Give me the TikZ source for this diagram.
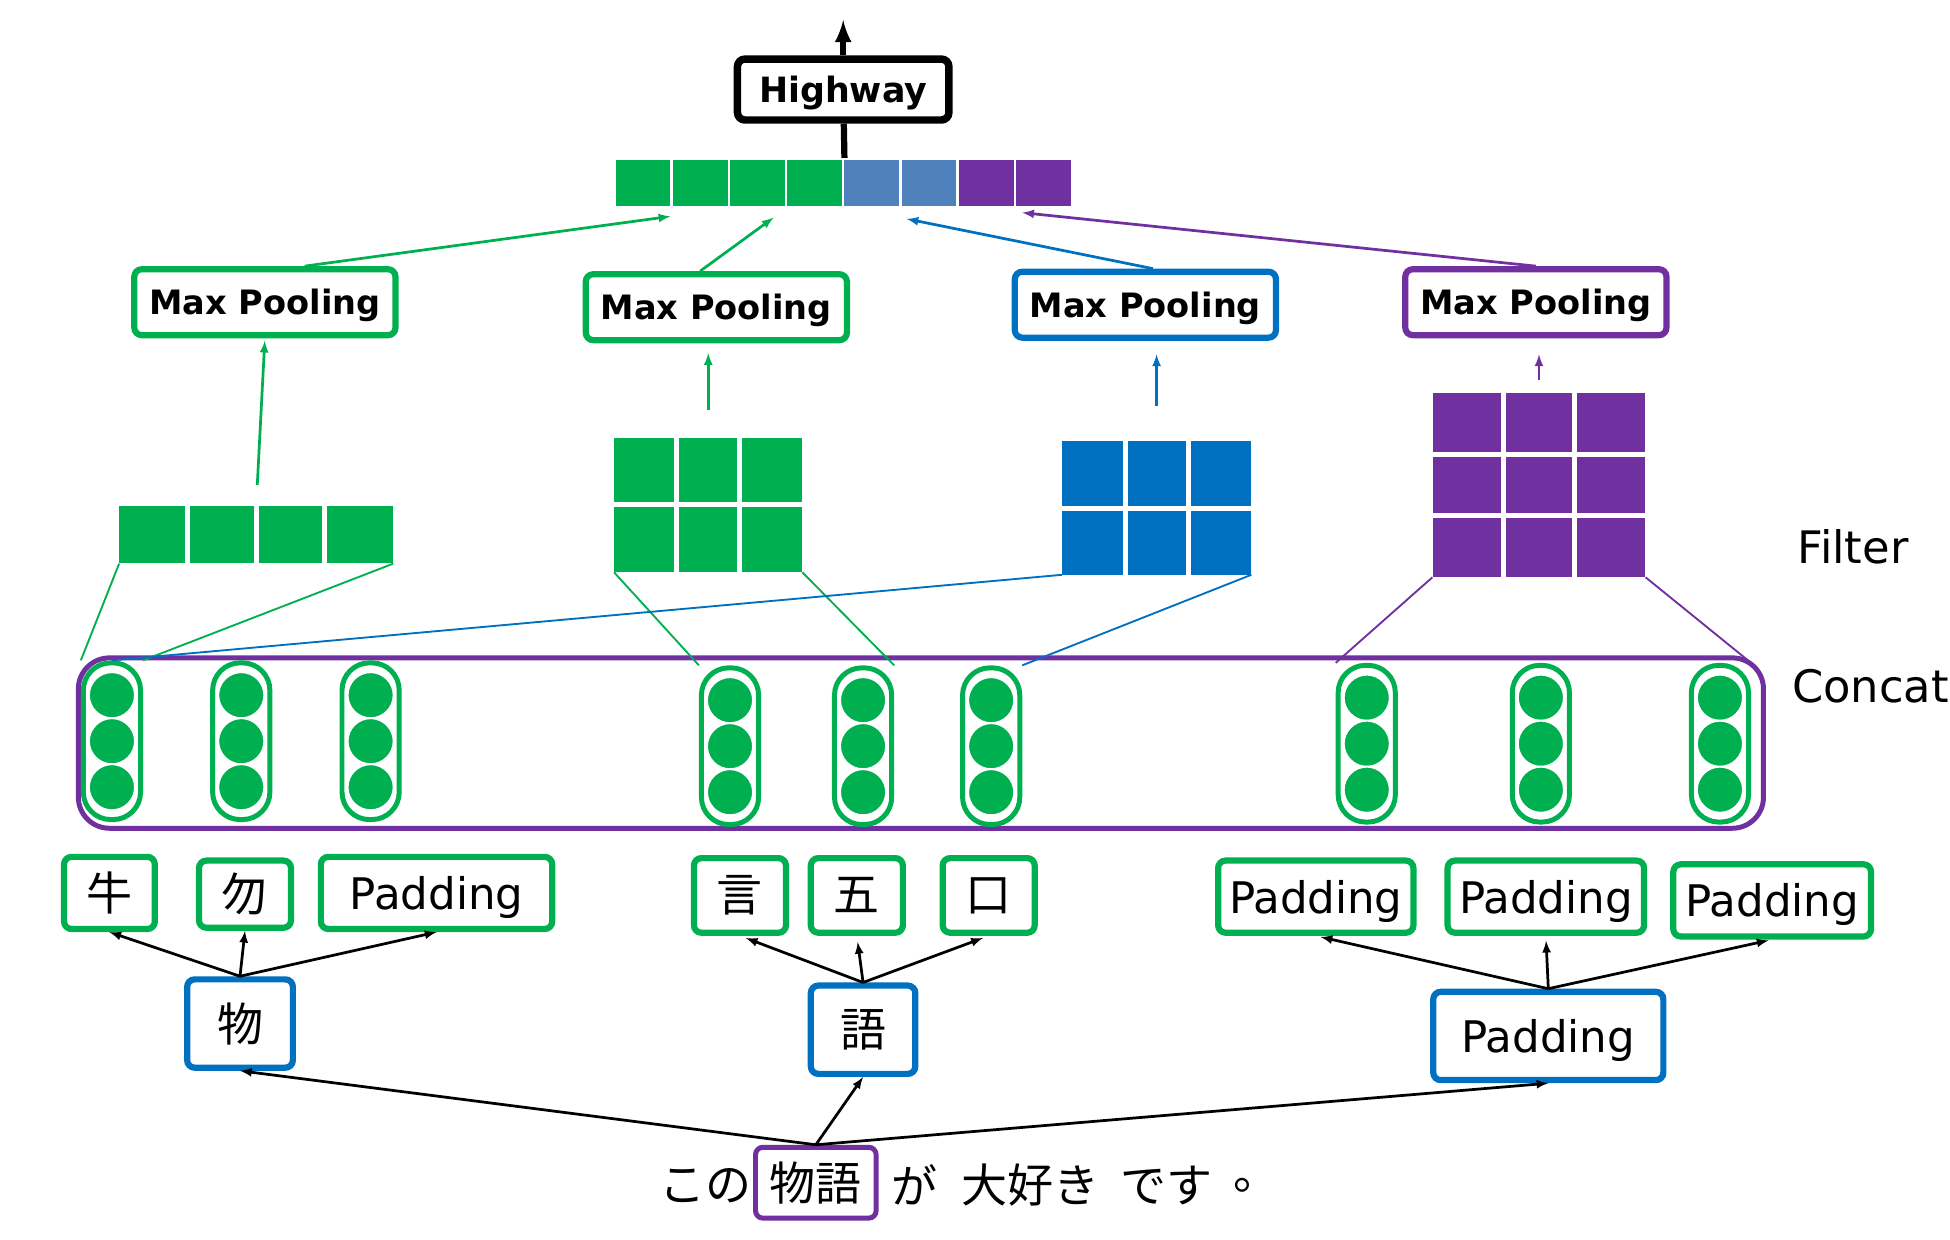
\documentclass[tikz,border=0pt]{standalone}
\usepackage{fontspec}
\setmainfont{DejaVu Sans}
\newfontfamily\jp{Noto Sans CJK JP}
\definecolor{cgreen}{RGB}{0,176,80}
\definecolor{cblue}{RGB}{0,112,192}
\definecolor{cpurple}{RGB}{112,48,160}
\definecolor{csteel}{RGB}{79,129,189}

\begin{document}
\begin{tikzpicture}[x=1pt,y=-1pt,>=latex,
    box/.style={draw,rounded corners=6,line width=5,fill=white,inner sep=0},
    mp/.style={box,minimum width=210,minimum height=53,text depth=0,font=\fontsize{27}{30}\selectfont\bfseries},
    gbox/.style={box,draw=cgreen,minimum height=58},
    bbox/.style={box,draw=cblue,minimum height=71},
    jtxt/.style={font=\jp\fontsize{37}{40}\selectfont},
    padtxt/.style={text depth=0,font=\fontsize{35}{40}\selectfont},
    cell/.style={draw=white,line width=2,inner sep=0,minimum width=46,minimum height=39},
    filt/.style={inner sep=0},
    wline/.style={white,line width=4},
    caps/.style={draw=cgreen,line width=4,rounded corners=22,minimum width=46,minimum height=126,inner sep=0},
    ball/.style={circle,fill=cgreen,draw=white,line width=1.5,minimum size=37,inner sep=0},
    lbl/.style={font=\fontsize{36}{40}\selectfont,inner sep=0}]
    \useasboundingbox (0,0) rectangle (1568,997);

    % output vector
    \foreach \i/\c in {1/cgreen,2/cgreen,3/cgreen,4/cgreen,5/csteel,6/csteel,7/cpurple,8/cpurple}
        \node[cell,fill=\c] (c\i) at (471+46*\i,147.5) {};
    \node[box,draw=black,line width=6,minimum width=170,minimum height=49,text depth=0,font=\fontsize{28}{30}\selectfont\bfseries] (hw) at (678,72) {Highway};
    \coordinate (out) at (678,16);
    \draw[->,line width=5] (hw) -- (out);
    \draw[line width=5] (hw) -- (c4.north east);

    % max pooling
    \node[mp,draw=cgreen] (mp1) at (213,243) {Max Pooling};
    \node[mp,draw=cgreen] (mp2) at (576,247) {Max Pooling};
    \node[mp,draw=cblue] (mp3) at (921,245) {Max Pooling};
    \node[mp,draw=cpurple] (mp4) at (1235,243) {Max Pooling};

    \path[->,cgreen,line width=2.2] ([xshift=32]mp1.north) edge ([xshift=-2,yshift=-6]c1.south east);
    \path[->,cgreen,line width=2.2] ([xshift=-13]mp2.north) edge ([xshift=-11,yshift=-7]c3.south east);
    \path[->,cblue,line width=2.2] ([xshift=6]mp3.north) edge ([xshift=6,yshift=-8]c6.south west);
    \path[->,cpurple,line width=2.2] (mp4.north) edge ([xshift=7,yshift=-3]c8.south west);

    % filters
    \node[filt,fill=cgreen,minimum width=220,minimum height=46] (f1) at (206,430) {};
    \node[filt,fill=cgreen,minimum width=151,minimum height=108] (f2) at (569.5,406) {};
    \node[filt,fill=cblue,minimum width=152,minimum height=107] (f3) at (930,408.5) {};
    \node[filt,fill=cpurple,minimum width=171,minimum height=148] (f4) at (1237.5,390) {};
    \foreach \x in {151,206,261} \draw[wline] (\x,407) -- (\x,453);
    \foreach \x in {544.3,594.7} \draw[wline] (\x,352) -- (\x,460);
    \draw[wline] (494,406) -- (645,406);
    \foreach \x in {904.7,955.3} \draw[wline] (\x,355) -- (\x,462);
    \draw[wline] (854,408.5) -- (1006,408.5);
    \foreach \x in {1209,1266} \draw[wline] (\x,316) -- (\x,464);
    \foreach \y in {365.3,414.7} \draw[wline] (1152,\y) -- (1323,\y);

    \path[->,cgreen,line width=2.2,shorten <=17,shorten >=2] (f1.north) edge (mp1.south);
    \path[->,cgreen,line width=2.2,shorten <=22,shorten >=8] (f2.north) edge (f2.north |- mp2.south);
    \path[->,cblue,line width=2.2,shorten <=28,shorten >=11] (f3.north) edge (f3.north |- mp3.south);
    \path[->,cpurple,line width=2.2,shorten <=10,shorten >=13] (f4.north) edge (f4.north |- mp4.south);

    \node[lbl] (flt) at (1490,440) {Filter};
    \node[lbl] (cct) at (1504,552) {Concat};

    % concat
    \node[draw=cpurple,line width=4,rounded corners=25,minimum width=1355,minimum height=137,inner sep=0] (cc) at (740.5,597.5) {};
    \foreach \n/\x/\y in {1/90/596,2/194/596,3/298/596,4/587/600,5/694/600,6/797/600,7/1099/598,8/1239/598,9/1383/598}{
        \node[caps] (k\n) at (\x,\y) {};
        \node[ball] (d\n1) at (\x,\y-37) {};
        \node[ball] (d\n2) at (\x,\y) {};
        \node[ball] (d\n3) at (\x,\y+37) {};
    }

    \path[-,cgreen,line width=1.5] (f1.south west) edge (k1.north west);
    \path[-,cgreen,line width=1.5] (f1.south east) edge (k1.north east);
    \path[-,cgreen,line width=1.5] (f2.south west) edge (k4.north west);
    \path[-,cgreen,line width=1.5] (f2.south east) edge (k5.north east);
    \path[-,cblue,line width=1.5] (f3.south west) edge (k1.north);
    \path[-,cblue,line width=1.5] (f3.south east) edge (k6.north east);
    \path[-,cpurple,line width=1.5] (f4.south west) edge (k7.north west);
    \path[-,cpurple,line width=1.5] (f4.south east) edge (k9.north east);

    % components
    \node[gbox,jtxt,minimum width=73] (a1) at (88,718) {牛};
    \node[gbox,jtxt,minimum width=74,minimum height=54] (a2) at (197,719) {勿};
    \node[gbox,padtxt,minimum width=186] (a3) at (351,718) {Padding};
    \node[gbox,jtxt,minimum width=74,minimum height=60] (a4) at (595,720) {言};
    \node[gbox,jtxt,minimum width=74,minimum height=60] (a5) at (689,720) {五};
    \node[gbox,jtxt,minimum width=74,minimum height=60] (a6) at (795,720) {口};
    \node[gbox,padtxt,minimum width=157] (a7) at (1058,721) {Padding};
    \node[gbox,padtxt,minimum width=158] (a8) at (1243,721) {Padding};
    \node[gbox,padtxt,minimum width=159] (a9) at (1425,724) {Padding};

    % characters
    \node[bbox,jtxt,minimum width=85] (r1) at (193,823) {物};
    \node[bbox,jtxt,minimum width=84] (r2) at (694,828) {語};
    \node[bbox,padtxt,minimum width=185] (r3) at (1245,833) {Padding};

    \path[->,line width=2.2] (r1.north) edge (a1.south);
    \path[->,line width=2.2] (r1.north) edge (a2.south);
    \path[->,line width=2.2] (r1.north) edge (a3.south);
    \path[->,line width=2.2,shorten >=5] (r2.north) edge (a4.south);
    \path[->,line width=2.2,shorten >=5] (r2.north) edge (a5.south);
    \path[->,line width=2.2,shorten >=5] (r2.north) edge (a6.south);
    \path[->,line width=2.2,shorten >=4] (r3.north) edge (a7.south);
    \path[->,line width=2.2,shorten >=4] (r3.north) edge (a8.south);
    \path[->,line width=2.2,shorten >=3] (r3.north) edge (a9.south);

    % sentence
    \node[jtxt,inner sep=0] (s0) at (567,953) {この};
    \node[box,jtxt,draw=cpurple,line width=4,minimum width=97,minimum height=57] (s1) at (656,951) {物語};
    \node[jtxt,inner sep=0] (s2) at (735,953) {が};
    \node[jtxt,inner sep=0] (s3) at (829,953) {大好き};
    \node[jtxt,inner sep=0] (s4) at (938,953) {です};
    \node[jtxt,inner sep=0] (s5) at (1010,953) {。};

    \path[->,line width=2.2] (s1.north) edge (r1.south);
    \path[->,line width=2.2] (s1.north) edge (r2.south);
    \path[->,line width=2.2] (s1.north) edge (r3.south);
\end{tikzpicture}
\end{document}
